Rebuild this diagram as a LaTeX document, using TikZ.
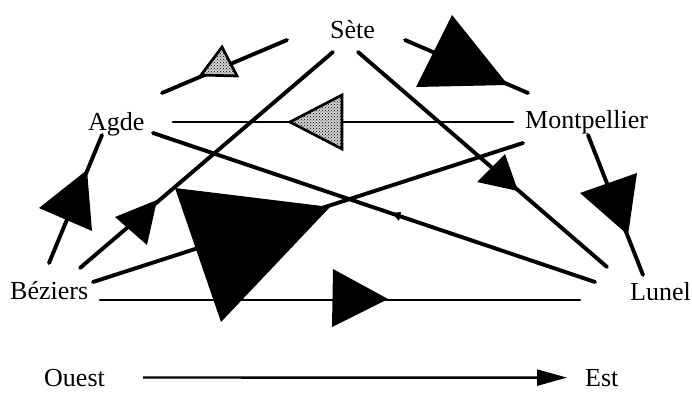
\documentclass[tikz,border=0pt]{standalone}
\usepackage{fontspec}
\setmainfont{Liberation Serif}
\usetikzlibrary{arrows.meta,patterns}

\begin{document}
\begin{tikzpicture}[x=1pt,y=-1pt,
  town/.style={font=\fontsize{26}{30}\selectfont,inner sep=0pt,anchor=base west},
  flow/.style={line width=3.9pt,line cap=round},
  thinflow/.style={line width=2.8pt,line cap=round},
  head/.style={fill=black},
  dothead/.style={draw,line width=2.7pt,line join=miter,preaction={fill=black!18},pattern=crosshatch dots},
  compass/.style={line width=2.4pt,-{Triangle[length=30pt,width=16pt]}}
]
\useasboundingbox (0,0) rectangle (692,403);

% towns
\node[town] (sete) at (330,39) {Sète};
\node[town] (agde) at (88,131) {Agde};
\node[town] (montpellier) at (525,129) {Montpellier};
\node[town] (beziers) at (10,299) {Béziers};
\node[town] (lunel) at (630,300) {Lunel};
\node[town] (ouest) at (44,386) {Ouest};
\node[town] (est) at (585,386) {Est};

% line ends
\coordinate (as1) at (162,93);  \coordinate (as2) at (287,40);
\coordinate (am1) at (173,122); \coordinate (am2) at (513,122);
\coordinate (al1) at (153,133); \coordinate (al2) at (595,282);
\coordinate (ab1) at (102,135); \coordinate (ab2) at (49,263);
\coordinate (sb1) at (333,52);  \coordinate (sb2) at (80,268);
\coordinate (sl1) at (358,52);  \coordinate (sl2) at (607,267);
\coordinate (sm1) at (405,40);  \coordinate (sm2) at (528,93);
\coordinate (bm1) at (93,282);  \coordinate (bm2) at (523,143);
\coordinate (bl1) at (100,300); \coordinate (bl2) at (580,300);
\coordinate (ml1) at (588,135); \coordinate (ml2) at (643,275);

% flows
\draw[flow] (as1) -- (as2);
\draw[thinflow] (am1) -- (am2);
\draw[flow] (al1) -- (al2);
\draw[flow] (ab1) -- (ab2);
\draw[flow] (sb1) -- (sb2);
\draw[flow] (sl1) -- (sl2);
\draw[flow] (sm1) -- (sm2);
\draw[flow] (bm1) -- (bm2);
\draw[thinflow] (bl1) -- (bl2);
\draw[flow] (ml1) -- (ml2);

% heads
\draw[dothead] (201,75) -- (222,47) -- (237,76) -- cycle;
\draw[dothead] (290,122) -- (342,95) -- (342,149) -- cycle;
\fill[head] (392,213) -- (401,212) -- (399,221) -- cycle;
\fill[head] (87,170) -- (39,208) -- (92,231) -- cycle;
\fill[head] (157,200) -- (115,217) -- (147,245) -- cycle;
\fill[head] (330,207) -- (175,188) -- (221,322) -- cycle;
\fill[head] (388,299) -- (333,269) -- (332,327) -- cycle;
\fill[head] (518,191) -- (477,182) -- (505,154) -- cycle;
\fill[head] (628,235) -- (580,193) -- (637,173) -- cycle;
\fill[head] (508,85) -- (452,15) -- (416,87) -- cycle;

% west to east
\draw[compass,shorten <=38pt,shorten >=18pt] (ouest.east) -- (est.west);
\end{tikzpicture}
\end{document}
